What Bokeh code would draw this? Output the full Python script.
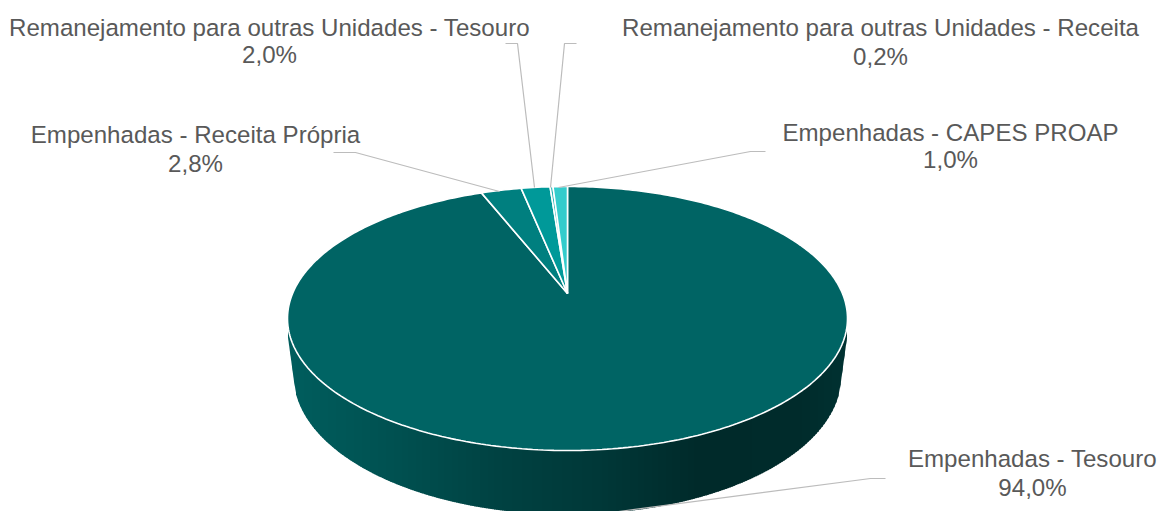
import numpy as np
from bokeh.plotting import figure
from bokeh.core.properties import value
from bokeh.embed import file_html
from bokeh.resources import INLINE

# data (clockwise from 12 o'clock)
categories = ["Empenhadas - Tesouro", "Empenhadas - Receita Própria",
              "Remanejamento para outras Unidades - Tesouro",
              "Remanejamento para outras Unidades - Receita",
              "Empenhadas - CAPES PROAP"]
shares = [94.0, 2.8, 2.0, 0.2, 1.0]
pct_labels = ["94,0%", "2,8%", "2,0%", "0,2%", "1,0%"]
colors = ["#006464", "#007f7f", "#009999", "#1fb3b3", "#33cccc"]

# layout
W, H = 1161, 511
label_x = [1032, 195, 269, 880, 950]
label_y1 = [458, 134, 27, 27, 132]
label_y2 = [487, 163, 54, 56, 159]
leaders = [
    ([885, 870, 618], [478, 478, 511]),
    ([333, 355, 499], [152, 152, 191]),
    ([505, 517, 534], [43, 43, 187]),
    ([576, 564, 550], [43, 43, 187]),
    ([765, 750, 558], [151, 151, 187]),
]
CX, CY, RY, APEX = 567.0, 318.0, 132.0, 25.0
RX = 280.0
K = APEX / RY
A = RX * np.sqrt(1 - K ** 2)
BCY, BRX, BRY = 375.0, 274.0, 139.0
WALL_DX, WALL_TOP = 279.5, 337.0
CORNER_DX = 272.0
grad_x = [287, 400, 500, 600, 700, 800, 847]
grad_rgb = [(0, 94, 94), (0, 80, 80), (0, 66, 66), (0, 56, 56), (0, 42, 42), (0, 44, 44), (0, 50, 50)]


def project(theta):
    u, v = np.sin(theta), np.cos(theta)
    d = 1 + K * v
    return CX + A * u / d, CY - (RY * v + APEX) / d


def wall_bottom(x):
    dx = abs(x - CX)
    corner = BCY + BRY * np.sqrt(1 - (CORNER_DX / BRX) ** 2)
    if dx <= CORNER_DX:
        return BCY + BRY * np.sqrt(1 - (dx / BRX) ** 2)
    return corner + (WALL_TOP - corner) * (dx - CORNER_DX) / (WALL_DX - CORNER_DX)


def wall_top(x):
    dx = min(abs(x - CX), RX)
    return CY + RY * np.sqrt(1 - (dx / RX) ** 2) - 3


p = figure(width=W, height=H, x_range=(0, W), y_range=(H, 0), output_backend="svg",
           toolbar_location=None, min_border=0, outline_line_color=None,
           x_axis_type=None, y_axis_type=None)
p.xgrid.visible = False
p.ygrid.visible = False

# side wall with horizontal gradient
xs_side, ys_side, cols_side = [], [], []
edges = np.arange(CX - WALL_DX, CX + WALL_DX, 2.0)
for x0 in edges:
    x1 = min(x0 + 2.6, CX + WALL_DX)
    xs_side.append([x0, x1, x1, x0])
    ys_side.append([wall_top(x0), wall_top(x1), wall_bottom(x1), wall_bottom(x0)])
    r, g, b = [float(np.interp(x0, grad_x, [c[i] for c in grad_rgb])) for i in range(3)]
    cols_side.append("#%02x%02x%02x" % (int(r), int(g), int(b)))
p.patches(xs_side, ys_side, fill_color=cols_side, line_color=None)

# top face slices
xs_top, ys_top = [], []
start = 0.0
for s in shares:
    end = start + s / 100 * 2 * np.pi
    th = np.linspace(start, end, max(4, int(s * 4)))
    ex, ey = project(th)
    xs_top.append([CX] + list(ex))
    ys_top.append([CY - APEX] + list(ey))
    start = end
p.patches(xs_top, ys_top, fill_color=colors, line_color="white", line_width=1.6)

# leader lines
for lx, ly in leaders:
    p.line(lx, ly, line_color="#bcbcbc", line_width=1.2)

# labels
font = value("Liberation Sans")
p.text(label_x, label_y1, text=categories, text_font=font, text_font_size="24.1px",
       text_color="#595959", text_align="center", text_baseline="middle")
p.text(label_x, label_y2, text=pct_labels, text_font=font, text_font_size="24.1px",
       text_color="#595959", text_align="center", text_baseline="middle")

open("out.html", "w").write(file_html(p, INLINE))
